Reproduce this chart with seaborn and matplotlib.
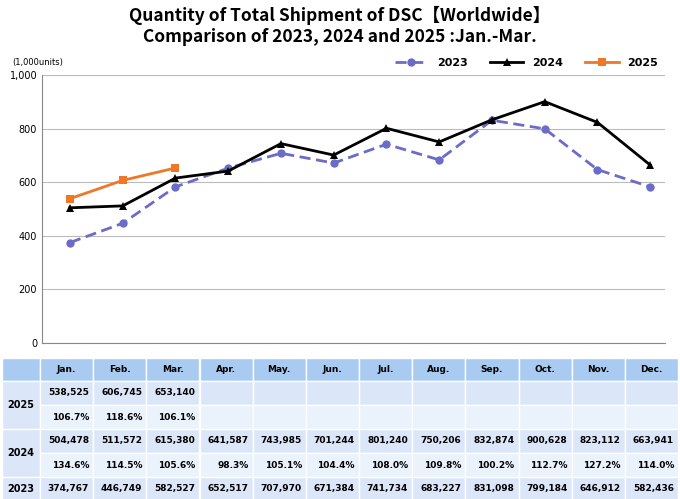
import matplotlib
matplotlib.use("Agg")
import matplotlib.pyplot as plt
import seaborn as sns
import pandas as pd
from matplotlib.patches import Rectangle

months = ["Jan.","Feb.","Mar.","Apr.","May.","Jun.","Jul.","Aug.","Sep.","Oct.","Nov.","Dec."]
v2023 = [374767,446749,582527,652517,707970,671384,741734,683227,831098,799184,646912,582436]
v2024 = [504478,511572,615380,641587,743985,701244,801240,750206,832874,900628,823112,663941]
v2025 = [538525,606745,653140]
p2024 = ["134.6%","114.5%","105.6%","98.3%","105.1%","104.4%","108.0%","109.8%","100.2%","112.7%","127.2%","114.0%"]
p2025 = ["106.7%","118.6%","106.1%"]

rows = []
for name, vals in [("2023", v2023), ("2024", v2024), ("2025", v2025)]:
    for i, v in enumerate(vals):
        rows.append({"series": name, "x": i, "y": v / 1000})
df = pd.DataFrame(rows)

W, H = 680, 499
fig = plt.figure(figsize=(6.8, 4.99), dpi=100)
ax = fig.add_axes([42/W, 1-343/H, (665-42)/W, (343-75)/H])
palette = {"2023": "#6b6bc8", "2024": "#000000", "2025": "#ee7728"}
sns.lineplot(data=df, x="x", y="y", hue="series", style="series",
             palette=palette, markers={"2023": "o", "2024": "^", "2025": "s"},
             dashes={"2023": (4, 2), "2024": "", "2025": ""},
             linewidth=2, markersize=6, markeredgewidth=0, ax=ax)
ax.set_xlim(-0.53, 11.28)
ax.set_ylim(0, 1000)
ax.set_yticks(range(0, 1001, 200))
ax.set_yticklabels([f"{v:,}" for v in range(0, 1001, 200)], fontsize=7)
ax.set_xticks([])
ax.set_xlabel(""); ax.set_ylabel("")
ax.grid(axis="y", color="#bbbbbb", linewidth=0.8)
ax.set_axisbelow(True)
for s in ["top", "right"]:
    ax.spines[s].set_visible(False)
ax.spines["left"].set_color("#888888")
ax.spines["bottom"].set_color("#888888")
ax.tick_params(axis="y", length=0)
ax.legend(loc="lower right", bbox_to_anchor=(1.0, 1.0), ncol=3, frameon=False,
          prop={"size": 8, "weight": "bold"}, handlelength=3, borderaxespad=0.2)
fig.text(12/W, 1-62/H, "(1,000units)", fontsize=6, va="center")
tf = "Noto Sans CJK JP"
fig.text(0.5, 1-15/H, "Quantity of Total Shipment of DSC\u3010Worldwide\u3011",
         ha="center", va="center", fontsize=12.5, fontweight="bold", family=tf)
fig.text(0.5, 1-37/H, "Comparison of 2023, 2024 and 2025 :Jan.-Mar.",
         ha="center", va="center", fontsize=12.5, fontweight="bold", family=tf)

# table
tx = fig.add_axes([0, 0, 1, 1])
tx.set_xlim(0, W); tx.set_ylim(H, 0); tx.axis("off")
x0, cw0 = 2, 38
cw = (678 - x0 - cw0) / 12
ys = [358, 381, 405, 429, 453, 477, 501]
hdr = "#a9cbf2"; c1 = "#dbe7f8"; c2 = "#eaf2fc"
def cell(x, y, w, h, color):
    tx.add_patch(Rectangle((x, y), w, h, facecolor=color, edgecolor="white", linewidth=1))
cell(x0, ys[0], cw0, ys[1]-ys[0], hdr)
for j, m in enumerate(months):
    cx = x0 + cw0 + j*cw
    cell(cx, ys[0], cw, ys[1]-ys[0], hdr)
    tx.text(cx + cw/2, (ys[0]+ys[1])/2, m, ha="center", va="center", fontsize=6.5, fontweight="bold")
lines = [("2025", v2025, p2025, 1), ("2024", v2024, p2024, 3), ("2023", v2023, None, 5)]
for name, vals, pcts, r in lines:
    nrow = 2 if pcts else 1
    cell(x0, ys[r], cw0, ys[r+nrow]-ys[r], c1)
    tx.text(x0 + cw0/2, (ys[r]+ys[r+nrow])/2, name, ha="center", va="center", fontsize=7, fontweight="bold")
    for j in range(12):
        cx = x0 + cw0 + j*cw
        cell(cx, ys[r], cw, ys[r+1]-ys[r], c1)
        if j < len(vals):
            tx.text(cx + cw - 4, (ys[r]+ys[r+1])/2, f"{vals[j]:,}", ha="right", va="center", fontsize=6.5, fontweight="bold")
        if pcts:
            cell(cx, ys[r+1], cw, ys[r+2]-ys[r+1], c2)
            if j < len(pcts):
                tx.text(cx + cw - 4, (ys[r+1]+ys[r+2])/2, pcts[j], ha="right", va="center", fontsize=6.5, fontweight="bold")

fig.savefig("out.png", dpi=100)
